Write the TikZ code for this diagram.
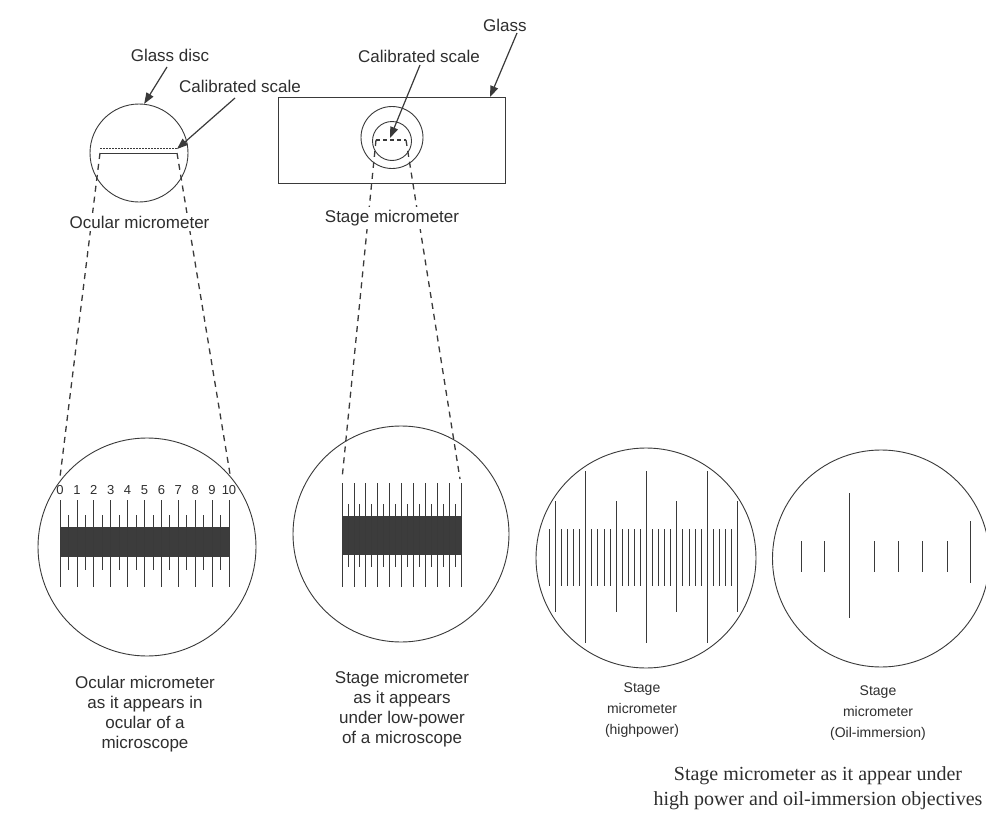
\documentclass[tikz,border=0pt]{standalone}
\usepackage{fontspec}
\setmainfont{Liberation Sans}
\newfontfamily\capfont{Liberation Serif}
\usetikzlibrary{arrows.meta}

\definecolor{ink}{HTML}{3A3A3A}
\definecolor{txt}{HTML}{2E2E2E}
\definecolor{barfill}{HTML}{3C3C3C}

\begin{document}
\begin{tikzpicture}[x=1pt,y=-1pt,
  outline/.style={draw=ink, line width=0.9pt},
  lens/.style={outline, circle, inner sep=0pt},
  proj/.style={draw=ink, line width=1.3pt, dash pattern=on 6pt off 5pt},
  pointer/.style={draw=ink, line width=1.2pt, -{Triangle[length=11pt,width=8pt]}},
  lbl/.style={text=txt, font=\fontsize{17}{20}\selectfont, inner sep=0pt, align=center},
  small/.style={text=txt, font=\fontsize{14}{21}\selectfont, inner sep=0pt, align=center},
  caption/.style={text=txt, font=\capfont\fontsize{20}{25}\selectfont, inner sep=0pt, align=center},
  gap/.style={fill=white, inner sep=3pt},
  tick/.style={draw=ink, line width=0.8pt},
  num/.style={text=txt, font=\fontsize{13}{13}\selectfont, inner sep=0pt, anchor=base},
  ]
\useasboundingbox (0,0) rectangle (986,819);
\fill[white] (0,0) rectangle (986,819);
\clip (0,0) rectangle (986,819);

% ---------- ocular micrometer disc ----------
\node[lens, minimum size=98pt] (disc) at (139,153) {};
\coordinate (dL) at (100,153);
\coordinate (dR) at (177,153);
\coordinate (dTip) at (177,149);
\draw[ink, line width=1pt, dash pattern=on 1.5pt off 1.5pt] (100,148) -- (177,148);
\draw[ink, line width=0.9pt] (dL) -- (dR);

% ---------- stage micrometer slide ----------
\node[outline, rectangle, minimum width=227pt, minimum height=86pt, inner sep=0pt] (slide) at (391.5,140) {};
\node[lens, minimum size=62pt] (ring) at (392,137.5) {};
\node[lens, minimum size=39pt] (well) at (392,141) {};
\coordinate (sL) at (376,140);
\coordinate (sR) at (406,140);
\coordinate (sTip) at (390,138);
\coordinate (glassPt) at (490,97);
\draw[ink, line width=1.2pt, dash pattern=on 4pt off 3pt] (sL) -- (sR);

% ---------- magnified fields ----------
\node[lens, minimum size=218pt] (c1) at (147,547) {};
\node[lens, minimum size=216pt] (c2) at (401,534) {};
\node[lens, minimum size=220pt] (c3) at (646,558) {};
\node[lens, minimum size=217pt] (c4) at (881,558.5) {};

% ocular scale 0..10
\fill[barfill] (60,527) rectangle (229,557);
\foreach \k in {0,...,10} {
  \draw[tick] ({60+16.9*\k},500) -- ({60+16.9*\k},587);
  \node[num] (n\k) at ({60+16.9*\k},494) {\k};
}
\foreach \k in {0,...,9}
  \draw[tick] ({60+16.9*(\k+0.5)},515) -- ({60+16.9*(\k+0.5)},570);
\coordinate (o0) at (60,477);
\coordinate (o10) at (230,474);

% stage scale under low power
\fill[barfill] (342,516) rectangle (461,555);
\foreach \k in {0,...,10}
  \draw[tick] ({342+11.9*\k},483) -- ({342+11.9*\k},587);
\foreach \k in {0,...,9}
  \draw[tick] ({342+11.9*(\k+0.5)},504) -- ({342+11.9*(\k+0.5)},567);
\coordinate (t0) at (342,479);
\coordinate (t10) at (460,479);

% stage scale under high power
\foreach \i in {0,...,31} {
  \pgfmathsetmacro{\xx}{549.3+6.07*\i}
  \pgfmathtruncatemacro{\r}{mod(\i,5)}
  \pgfmathtruncatemacro{\q}{mod(\i,10)}
  \ifnum\r=1
    \ifnum\q=1
      \draw[tick] (\xx,501) -- (\xx,612);
    \else
      \draw[tick] (\xx,471) -- (\xx,643);
    \fi
  \else
    \draw[tick] (\xx,529) -- (\xx,586);
  \fi
}

% stage scale under oil immersion
\foreach \xx in {801,824.3,874,898.3,922.3,947.7}
  \draw[tick] (\xx,541) -- (\xx,572);
\draw[tick] (849,493) -- (849,618);
\draw[tick] (970.7,521) -- (970.7,583);

% ---------- projection lines ----------
\draw[proj] (dL) -- (o0);
\draw[proj] (dR) -- (o10);
\draw[proj] (sL) -- (t0);
\draw[proj] (sR) -- (t10);

% ---------- labels and pointers ----------
\node[lbl, anchor=base] (lglassdisc) at (170,61) {Glass disc};
\node[lbl, anchor=base] (lcal1) at (240,92) {Calibrated scale};
\node[lbl, anchor=base, gap] (locular) at (139.5,228) {Ocular micrometer};
\node[lbl, anchor=base] (lcal2) at (419,62) {Calibrated scale};
\node[lbl, anchor=base west] (lglass) at (483,31) {Glass};
\node[lbl, anchor=base, gap] (lstage) at (392,222) {Stage micrometer};

\draw[pointer] (167,67) -- (disc.84);
\draw[pointer] (235,98) -- (dTip);
\draw[pointer] (420,65) -- (sTip);
\draw[pointer] (517,33) -- (glassPt);

\node[lbl, anchor=north] (cap1) at (145,676)
  {Ocular micrometer\\as it appears in\\ocular of a\\microscope};
\node[lbl, anchor=north] (cap2) at (402,671)
  {Stage micrometer\\as it appears\\under low-power\\of a microscope};
\node[small, anchor=north] (cap3) at (642,683)
  {Stage\\micrometer\\(highpower)};
\node[small, anchor=north] (cap4) at (878,686)
  {Stage\\micrometer\\(Oil-immersion)};
\node[caption, anchor=north] (capall) at (818,766)
  {Stage micrometer as it appear under\\high power and oil-immersion objectives};
\end{tikzpicture}
\end{document}
